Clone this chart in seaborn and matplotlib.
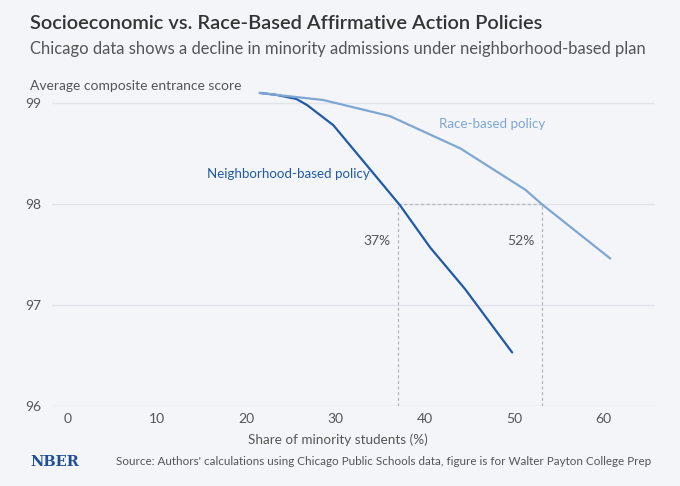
import numpy as np
import pandas as pd
import seaborn as sns
import matplotlib.pyplot as plt

# values
share_nbhd = [21.5, 23.4, 25.6, 26.8, 29.75, 37.2, 40.6, 44.5, 49.8]
score_nbhd = [99.10, 99.08, 99.04, 98.98, 98.78, 97.99, 97.57, 97.16, 96.53]
share_race = [21.5, 23.4, 28.6, 36.1, 44.0, 51.3, 53.1, 60.8]
score_race = [99.10, 99.08, 99.03, 98.87, 98.55, 98.14, 98.0, 97.46]
x_ticks = [0, 10, 20, 30, 40, 50, 60]
y_ticks = [96, 97, 98, 99]
cut_nbhd, cut_race = 37.0, 53.1
cut_labels = ['37%', '52%']

bg = '#f4f5f9'
dark_blue = '#1f59a8'
light_blue = '#7ea6d3'

sns.set_theme(style='white')
plt.rcParams['font.family'] = ['Lato', 'DejaVu Sans']

df = pd.concat([
    pd.DataFrame({'share': share_nbhd, 'score': score_nbhd, 'policy': 'Neighborhood-based policy'}),
    pd.DataFrame({'share': share_race, 'score': score_race, 'policy': 'Race-based policy'}),
])

fig = plt.figure(figsize=(6.8, 4.86), dpi=100, facecolor=bg)
ax = fig.add_axes([0.0765, 0.1646, 0.8865, 0.665], facecolor=bg)

# grid lines
for yv in y_ticks[1:]:
    ax.axhline(yv, color='#e2e4ea', lw=1, zorder=0)
ax.axhline(96, color='#d8dae0', lw=1, zorder=1)

sns.lineplot(data=df, x='share', y='score', hue='policy', sort=False,
             palette={'Neighborhood-based policy': dark_blue, 'Race-based policy': light_blue},
             linewidth=1.6, legend=False, ax=ax, zorder=3)

# dashed guides
dash_kw = dict(color='#b5b7bd', lw=0.9, ls=(0, (2.5, 2)), zorder=2)
ax.plot([cut_nbhd, cut_race], [98, 98], **dash_kw)
ax.plot([cut_nbhd, cut_nbhd], [96, 98], **dash_kw)
ax.plot([cut_race, cut_race], [96, 98], **dash_kw)
ax.text(cut_nbhd - 0.8, 97.63, cut_labels[0], ha='right', va='center', fontsize=10, color='#555555')
ax.text(cut_race - 0.8, 97.63, cut_labels[1], ha='right', va='center', fontsize=10, color='#555555')

ax.text(15.6, 98.3, 'Neighborhood-based policy', color=dark_blue, fontsize=9.6, va='center')
ax.text(41.6, 98.79, 'Race-based policy', color=light_blue, fontsize=9.6, va='center')

ax.set_xlim(-1.8, 65.8)
ax.set_ylim(96, 99.2)
ax.set_xticks(x_ticks)
ax.set_yticks(y_ticks)
ax.tick_params(axis='x', length=5, width=0.8, color='#cfd1d6', labelsize=10, labelcolor='#555555', pad=0)
ax.tick_params(axis='y', length=0, labelsize=10, labelcolor='#555555', pad=8)
for s in ax.spines.values():
    s.set_visible(False)
ax.set_xlabel('Share of minority students (%)', fontsize=9.7, color='#555555')
ax.xaxis.set_label_coords(0.475, -0.085)
ax.set_ylabel('')

fig.text(0.044, 0.823, 'Average composite entrance score', fontsize=10, color='#555555', va='center')
fig.text(0.044, 0.952, 'Socioeconomic vs. Race-Based Affirmative Action Policies',
         fontsize=14.4, color='#333333', va='center', fontweight='semibold')
fig.text(0.044, 0.9, 'Chicago data shows a decline in minority admissions under neighborhood-based plan',
         fontsize=11.9, color='#555555', va='center')
fig.text(0.044, 0.05, 'NBER', family='DejaVu Serif', fontweight='bold', fontsize=10.5,
         color='#1f4f9a', va='center')
fig.text(0.957, 0.05, "Source: Authors' calculations using Chicago Public Schools data, figure is for Walter Payton College Prep",
         fontsize=8.4, color='#555555', va='center', ha='right')

fig.savefig('out.png', dpi=100, facecolor=bg)
